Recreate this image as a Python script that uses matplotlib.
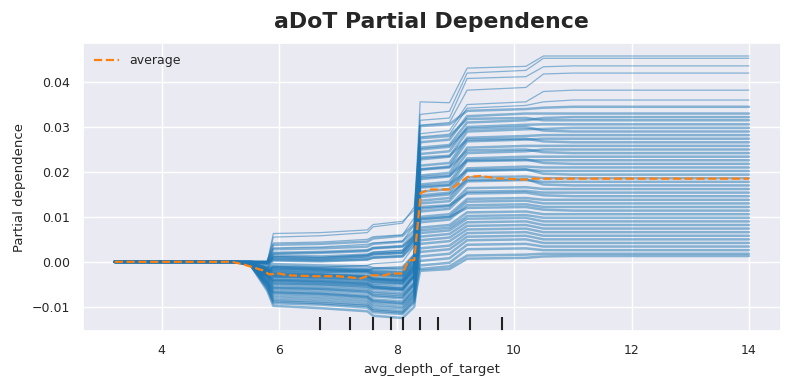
import numpy as np
import matplotlib
matplotlib.use('Agg')
import matplotlib.pyplot as plt
import matplotlib.transforms as mtransforms
import seaborn as sns

sns.set_theme(style='darkgrid')
plt.rcParams['font.family'] = ['DejaVu Sans']

# valores en milésimas (x 1e-3)
ice_x = [3.2, 5.2, 5.5, 5.8, 5.9, 6.7, 7.5, 7.6, 8.1, 8.3, 8.4, 8.9, 9.2, 10.2, 10.5, 11.0, 14.0]

# curvas ICE (desde x=5.5; antes de 5.5 todas valen 0)
ice_lines = [
    [0, 0, 4.2, 4.4, 5.0, 5.6, 6.0, 9.8, 35.6, 35.4, 43.1, 43.5, 45.8, 45.8, 45.8],
    [0, -0.2, 3.1, 3.3, 3.9, 4.2, 4.6, 8.2, 32.8, 33.5, 42.0, 42.6, 45.3, 45.3, 45.3],
    [-0.3, -1.5, 1.2, 1.0, 1.6, 2.2, 2.6, 6.0, 31.5, 32.0, 40.8, 41.2, 43.4, 43.6, 43.6],
    [0, 0, 5.5, 5.8, 6.5, 7.8, 8.6, 12.2, 30.4, 31.0, 38.2, 38.8, 41.8, 42.0, 42.0],
    [0, 0, 6.3, 6.5, 7.1, 8.3, 9.0, 11.5, 28.5, 29.2, 35.0, 35.6, 37.9, 38.2, 38.2],
    [-0.4, -2.5, -1.0, -1.2, -0.8, -0.4, 0.0, 3.5, 27.8, 28.4, 34.2, 34.8, 35.6, 36.0, 36.0],
    [0, -0.5, 0.8, 0.6, 1.2, 1.8, 2.0, 5.2, 30.2, 30.6, 33.6, 34.0, 34.3, 34.5, 34.5],
    [-0.3, -1.8, -2.0, -2.3, -2.0, -1.5, -1.2, 1.6, 26.6, 27.2, 32.4, 33.0, 33.0, 33.0, 33.0],
    [0, 0, 3.8, 4.0, 4.5, 5.2, 5.8, 8.4, 25.4, 26.0, 31.0, 31.5, 32.0, 32.2, 32.2],
    [-0.5, -3.0, -4.0, -4.3, -4.8, -5.5, -6.0, -3.0, 27.5, 28.0, 31.8, 32.0, 31.5, 31.5, 31.5],
    [0, -0.3, 1.8, 2.0, 2.4, 3.0, 3.4, 5.6, 24.0, 24.6, 30.0, 30.5, 30.6, 30.6, 30.6],
    [-0.4, -2.2, -1.5, -1.8, -2.2, -2.8, -3.2, -0.5, 22.8, 23.4, 29.0, 29.5, 29.6, 29.8, 29.8],
    [-0.2, -1.0, 0.3, 0.1, 0.5, 0.9, 1.2, 3.8, 25.0, 25.6, 29.6, 30.0, 29.2, 29.0, 29.0],
    [-0.5, -3.5, -5.0, -5.3, -5.8, -6.6, -7.0, -4.5, 21.4, 22.0, 27.6, 28.0, 28.2, 28.2, 28.2],
    [0, 0, 2.8, 3.0, 3.4, 4.0, 4.5, 7.0, 20.6, 21.2, 26.8, 27.2, 27.4, 27.4, 27.4],
    [-0.3, -2.0, -2.5, -2.8, -3.2, -3.8, -4.2, -1.2, 23.2, 23.6, 27.2, 27.4, 26.8, 26.6, 26.6],
    [-0.5, -4.5, -6.5, -6.8, -7.5, -8.4, -8.8, -6.0, 19.2, 19.8, 25.4, 25.8, 25.8, 25.8, 25.8],
    [-0.2, -1.2, -0.5, -0.8, -1.0, -1.4, -1.6, 1.5, 18.4, 19.0, 24.2, 24.6, 25.0, 25.0, 25.0],
    [-0.4, -3.0, -3.5, -3.8, -4.2, -4.8, -5.0, -2.2, 20.5, 21.0, 24.8, 25.0, 24.4, 24.2, 24.2],
    [0, -0.2, 1.0, 0.8, 1.2, 1.6, 2.0, 4.8, 17.2, 17.8, 23.0, 23.4, 23.4, 23.4, 23.4],
    [-0.5, -5.0, -7.5, -7.8, -8.5, -9.5, -10.0, -7.2, 16.5, 17.0, 22.4, 22.6, 22.6, 22.6, 22.6],
    [-0.3, -2.4, -3.0, -3.2, -3.5, -4.0, -4.4, -1.8, 18.8, 19.2, 22.6, 22.8, 22.0, 21.8, 21.8],
    [-0.2, -1.5, -1.2, -1.5, -1.8, -2.2, -2.4, 0.6, 15.6, 16.2, 20.8, 21.2, 21.0, 21.0, 21.0],
    [-0.4, -3.8, -5.5, -5.8, -6.3, -7.0, -7.4, -4.8, 14.8, 15.4, 20.2, 20.5, 20.2, 20.2, 20.2],
    [0, 0, 2.0, 2.2, 2.6, 3.1, 3.5, 6.2, 16.8, 17.2, 20.4, 20.6, 19.6, 19.4, 19.4],
    [-0.3, -2.8, -4.0, -4.2, -4.6, -5.2, -5.6, -2.8, 13.6, 14.2, 18.8, 19.0, 18.6, 18.6, 18.6],
    [-0.5, -5.5, -8.5, -8.8, -9.5, -10.5, -11.0, -8.0, 13.0, 13.5, 17.9, 18.2, 17.8, 17.8, 17.8],
    [-0.2, -1.8, -1.8, -2.0, -2.3, -2.7, -3.0, 0.2, 14.4, 15.0, 18.2, 18.4, 17.2, 17.0, 17.0],
    [-0.4, -3.2, -4.8, -5.0, -5.5, -6.0, -6.4, -3.6, 11.8, 12.4, 16.4, 16.6, 16.2, 16.2, 16.2],
    [0, -0.4, 0.5, 0.3, 0.6, 1.0, 1.3, 4.5, 11.2, 11.8, 15.6, 15.8, 15.4, 15.4, 15.4],
    [-0.3, -2.6, -3.3, -3.6, -4.0, -4.5, -4.8, -2.0, 12.2, 12.6, 15.2, 15.4, 14.8, 14.6, 14.6],
    [-0.5, -4.8, -7.0, -7.3, -8.0, -9.0, -9.4, -6.8, 10.0, 10.6, 14.0, 14.2, 13.8, 13.8, 13.8],
    [-0.2, -1.4, -1.0, -1.3, -1.6, -2.0, -2.2, 1.2, 9.4, 10.0, 13.4, 13.6, 13.0, 13.0, 13.0],
    [-0.4, -4.0, -5.8, -6.0, -6.6, -7.4, -7.8, -5.0, 8.8, 9.4, 12.6, 12.8, 12.2, 12.2, 12.2],
    [-0.3, -2.2, -2.8, -3.0, -3.3, -3.8, -4.0, -0.8, 9.6, 10.0, 12.0, 12.2, 11.6, 11.4, 11.4],
    [-0.5, -6.0, -9.2, -9.5, -10.2, -11.2, -11.6, -9.0, 7.6, 8.2, 11.0, 11.2, 10.6, 10.6, 10.6],
    [0, -0.3, 1.4, 1.2, 1.6, 2.0, 2.4, 5.4, 7.0, 7.6, 10.2, 10.4, 9.8, 9.8, 9.8],
    [-0.4, -3.4, -4.5, -4.8, -5.2, -5.8, -6.2, -3.2, 6.4, 7.0, 9.6, 9.8, 9.0, 9.0, 9.0],
    [-0.2, -1.6, -1.4, -1.7, -2.0, -2.5, -2.8, 0.8, 5.6, 6.2, 8.8, 9.0, 8.2, 8.2, 8.2],
    [-0.5, -5.2, -8.0, -8.3, -9.0, -10.0, -10.4, -7.6, 4.8, 5.4, 8.0, 8.2, 7.4, 7.4, 7.4],
    [-0.3, -2.5, -3.2, -3.4, -3.8, -4.3, -4.6, -1.4, 4.0, 4.6, 7.2, 7.4, 6.6, 6.6, 6.6],
    [-0.4, -4.2, -6.0, -6.3, -6.9, -7.7, -8.1, -5.2, 3.0, 3.6, 6.4, 6.6, 5.8, 5.8, 5.8],
    [-0.2, -1.9, -2.2, -2.5, -2.8, -3.3, -3.5, -0.2, 2.2, 2.8, 5.6, 5.8, 5.0, 5.0, 5.0],
    [-0.5, -6.5, -9.8, -10.3, -11.0, -12.0, -12.5, -10.0, 1.2, 1.8, 4.8, 5.0, 4.2, 4.2, 4.2],
    [-0.3, -3.0, -4.2, -4.5, -5.0, -5.6, -6.0, -3.0, 0.2, 0.8, 3.8, 4.0, 3.4, 3.4, 3.4],
    [-0.4, -4.6, -6.8, -7.1, -7.8, -8.7, -9.2, -6.2, -0.8, -0.2, 2.8, 3.0, 2.6, 2.6, 2.6],
    [-0.2, -2.0, -2.6, -2.9, -3.3, -3.8, -4.0, -1.0, -1.6, -1.0, 1.4, 1.6, 1.8, 1.8, 1.8],
    [-0.5, -5.8, -8.8, -9.2, -9.8, -10.8, -11.3, -8.6, -2.0, -1.6, 0.7, 0.9, 1.2, 1.3, 1.3],
]

# curva promedio
avg_x = [3.2, 5.2, 5.4, 5.72, 5.83, 6.0, 6.14, 6.6, 7.0, 7.16, 7.39, 7.53, 7.79, 7.9,
         8.1, 8.2, 8.3, 8.41, 8.55, 8.92, 9.21, 9.43, 9.69, 10.17, 10.32, 14.0]
avg_y = [0, 0, -0.6, -1.9, -2.8, -2.6, -3.0, -3.2, -3.2, -3.4, -3.7, -3.0, -3.0, -2.6,
         -2.6, 0.3, 0.4, 15.3, 16.1, 16.1, 18.9, 19.1, 18.6, 18.3, 18.5, 18.5]

# deciles de avg_depth_of_target
deciles = [6.7, 7.2, 7.6, 7.9, 8.1, 8.4, 8.7, 9.25, 9.8]

fig = plt.figure(figsize=(7.91, 3.90), dpi=100)
ax = fig.add_axes([0.105, 0.151, 0.882, 0.739])

ice = np.array([[0, 0] + row for row in ice_lines]) * 1e-3
for row in ice:
    # las curvas aisladas de arriba se ven más finas
    lw = 0.9 if row.max() > 0.035 else 1.8
    ax.plot(ice_x, row, color='tab:blue', alpha=0.5, linewidth=lw)

ax.plot(avg_x, np.array(avg_y) * 1e-3, color='tab:orange', linestyle='--',
        linewidth=1.6, label='average')

trans = mtransforms.blended_transform_factory(ax.transData, ax.transAxes)
ax.vlines(deciles, 0, 0.05, transform=trans, color='#222222', linewidth=1.5)

lo, hi = ice.min(), ice.max()
span = (hi - lo) * 0.05
ax.set_ylim(lo - span, hi + span)
ax.set_xlim(3.2 - 0.54, 14.0 + 0.54)

ax.tick_params(labelsize=9)
ax.set_xlabel('avg_depth_of_target', fontsize=9.5)
ax.set_ylabel('Partial dependence', fontsize=9.5)
ax.legend(loc='upper left', fontsize=9, frameon=False)
ax.set_title('aDoT Partial Dependence', fontsize=15.8, fontweight='bold', pad=11)

fig.savefig('out.png', dpi=100)
